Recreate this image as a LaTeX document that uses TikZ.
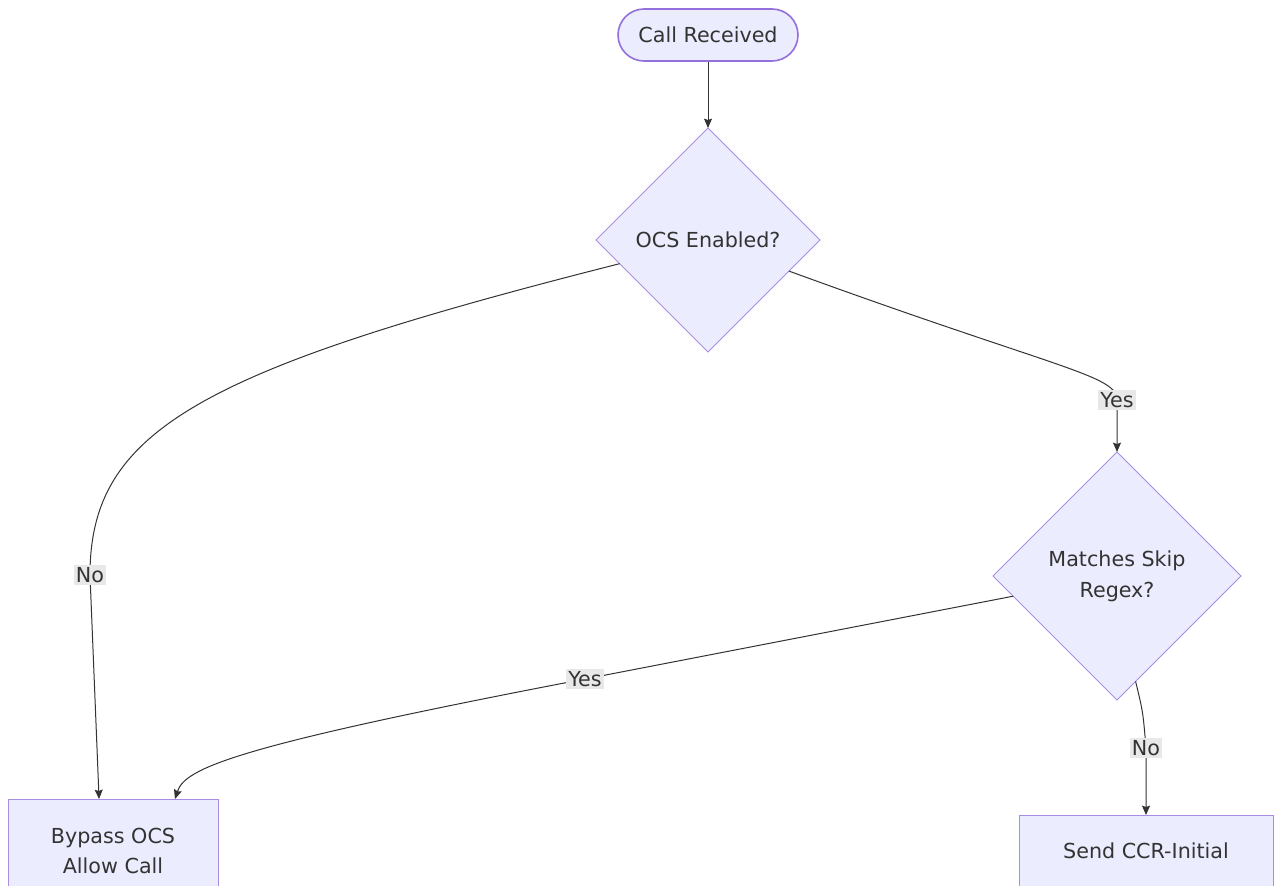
\documentclass[tikz,border=0pt]{standalone}
\usepackage{fontspec}
\setmainfont{DejaVu Sans}
\usetikzlibrary{shapes.geometric, arrows.meta}
\definecolor{nodefill}{HTML}{ECECFF}
\definecolor{nodeline}{HTML}{9370DB}
\definecolor{edgeline}{HTML}{333333}
\definecolor{labelfill}{HTML}{E8E8E8}
\tikzset{
    >={Stealth[length=7pt, width=6pt, inset=1pt]}, % small filled arrow heads
    every node/.style={font=\fontsize{15.5}{23}\selectfont, text=edgeline, align=center},
    startbox/.style={draw=nodeline, fill=nodefill, line width=1.2pt, rounded corners=19.5pt,
        minimum width=135pt, minimum height=39pt}, % the rounded start node
    decision/.style={diamond, draw=nodeline!80, fill=nodefill, line width=0.6pt, inner sep=0pt, outer sep=0pt},
    actionbox/.style={draw=nodeline!80, fill=nodefill, line width=0.7pt, outer sep=0pt},
    flow/.style={->, draw=edgeline, line width=0.75pt}, % the connectors
    lbl/.style={fill=labelfill, inner sep=1.5pt}, % labels on the connectors
}
\begin{document}
\begin{tikzpicture}[x=0.75pt, y=-0.75pt]
    \useasboundingbox[fill=white] (0,0) rectangle (1276,885);
    \node[startbox] (call) at (708,35) {Call Received};
    \node[decision, minimum width=168pt, minimum height=168pt] (ocs) at (708,240) {OCS Enabled?};
    \node[decision, minimum width=186pt, minimum height=186pt] (skip) at (1117,576) {Matches Skip\\Regex?};
    \node[actionbox, minimum width=157.5pt, minimum height=78pt] (bypass) at (113,851) {Bypass OCS\\Allow Call};
    \node[actionbox, minimum width=190.5pt, minimum height=54pt] (ccr) at (1146,851) {Send CCR-Initial};
    \draw[flow] (call) -- (ocs);
    \draw[flow] (ocs.-21) .. controls (1060,370) and (1117,375) .. (1117,400) node[lbl] {Yes} -- (skip.north);
    \draw[flow] (ocs.195) .. controls (200,370) and (90,430) .. (90,575) node[lbl] {No} -- (bypass.105);
    \draw[flow] (skip.191) -- (585,679) node[lbl] {Yes} .. controls (235,746) and (185,768) .. (bypass.40);
    \draw[flow] (skip.-80) .. controls (1143,712) .. (1146,748) node[lbl] {No} -- (ccr.north);
\end{tikzpicture}
\end{document}
